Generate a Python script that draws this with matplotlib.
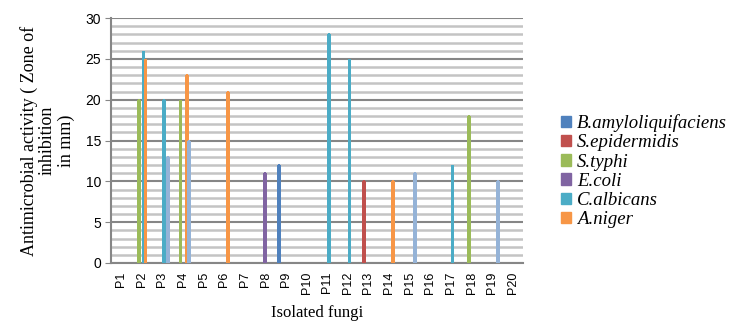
import numpy as np
import matplotlib
matplotlib.use("Agg")
import matplotlib.pyplot as plt
from matplotlib.patches import Patch

categories = ["P%d" % i for i in range(1, 21)]

series_names = ["B.amyloliquifaciens", "S.epidermidis", "S.typhi",
                "E.coli", "C.albicans", "A.niger", ""]
series_colors = ["#4F81BD", "#C0504D", "#9BBB59", "#8064A2",
                 "#4BACC6", "#F79646", "#95B3D7"]

#                   P1 P2  P3  P4  P5 P6  P7 P8  P9 P10 P11 P12 P13 P14 P15 P16 P17 P18 P19 P20
b_amylo =          [0, 0,  0,  0,  0, 0,  0, 0,  12, 0, 0,  0,  0,  0,  0,  0,  0,  0,  0,  0]
s_epidermidis =    [0, 0,  0,  0,  0, 0,  0, 0,  0,  0, 0,  0,  10, 0,  0,  0,  0,  0,  0,  0]
s_typhi =          [0, 20, 0,  20, 0, 0,  0, 0,  0,  0, 0,  0,  0,  0,  0,  0,  0,  18, 0,  0]
e_coli =           [0, 0,  0,  0,  0, 0,  0, 11, 0,  0, 0,  0,  0,  0,  0,  0,  0,  0,  0,  0]
c_albicans =       [0, 26, 20, 0,  0, 0,  0, 0,  0,  0, 28, 25, 0,  0,  0,  0,  12, 0,  0,  0]
a_niger =          [0, 25, 0,  23, 0, 21, 0, 0,  0,  0, 0,  0,  0,  10, 0,  0,  0,  0,  0,  0]
series_7 =         [0, 0,  13, 15, 0, 0,  0, 0,  0,  0, 0,  0,  0,  0,  11, 0,  0,  0,  10, 0]

all_series = [b_amylo, s_epidermidis, s_typhi, e_coli, c_albicans, a_niger, series_7]


def main():
    fig = plt.figure(figsize=(7.31, 3.24), dpi=100)
    ax = fig.add_axes([111 / 731, 1 - 263 / 324, 412 / 731, 245 / 324])

    x = np.arange(len(categories))
    step = 0.1
    n_slots = 8
    for k, (vals, col) in enumerate(zip(all_series, series_colors)):
        offs = (k - (n_slots - 1) / 2) * step
        h = np.array(vals, dtype=float)
        h[h == 0] = np.nan  # skip empty bars
        ax.bar(x + offs, h, width=0.04, color=col, edgecolor=col,
               linewidth=1.0, antialiased=False, zorder=3)

    ax.set_xlim(-0.5, len(categories) - 0.5)
    ax.set_ylim(0, 30)
    ax.set_yticks(range(0, 31, 5))
    ax.set_yticks(range(0, 31, 1), minor=True)
    ax.grid(axis="y", which="minor", color="#c4c4c4", linewidth=1.8, zorder=1)
    ax.grid(axis="y", which="major", color="#868686", linewidth=1.5, zorder=2)
    ax.tick_params(axis="y", which="minor", length=0)
    ax.tick_params(axis="y", which="major", length=4, color="#868686",
                   labelsize=10, pad=3)
    ax.set_xticks(x)
    ax.set_xticklabels(categories, rotation=90, fontsize=9,
                       family="Liberation Sans")
    ax.tick_params(axis="x", length=0, pad=6)
    for lbl in ax.get_yticklabels():
        lbl.set_family("Liberation Sans")

    for s in ["top", "right"]:
        ax.spines[s].set_visible(False)
    ax.spines["left"].set_color("#868686")
    ax.spines["left"].set_linewidth(1.5)
    ax.spines["bottom"].set_color("#868686")
    ax.spines["bottom"].set_linewidth(1.5)

    ax.set_xlabel("Isolated fungi", family="Liberation Serif", fontsize=12,
                  labelpad=8)
    ax.set_ylabel("Antimicrobial activity ( Zone of\ninhibition\nin mm)",
                  family="Liberation Serif", fontsize=13, labelpad=8,
                  linespacing=1.08, multialignment="center")

    handles = [Patch(color=c, label=n)
               for n, c in zip(series_names[:6], series_colors[:6])]
    fig.legend(handles=handles, loc="upper left",
               bbox_to_anchor=(548 / 731, 1 - 101 / 324), frameon=False,
               prop={"family": "Liberation Serif", "style": "italic",
                     "size": 13.5},
               handlelength=0.55, handleheight=0.55, handletextpad=0.3,
               labelspacing=0.12, borderpad=0.2)

    fig.savefig("out.png", dpi=100)
    plt.close(fig)


if __name__ == "__main__":
    main()
